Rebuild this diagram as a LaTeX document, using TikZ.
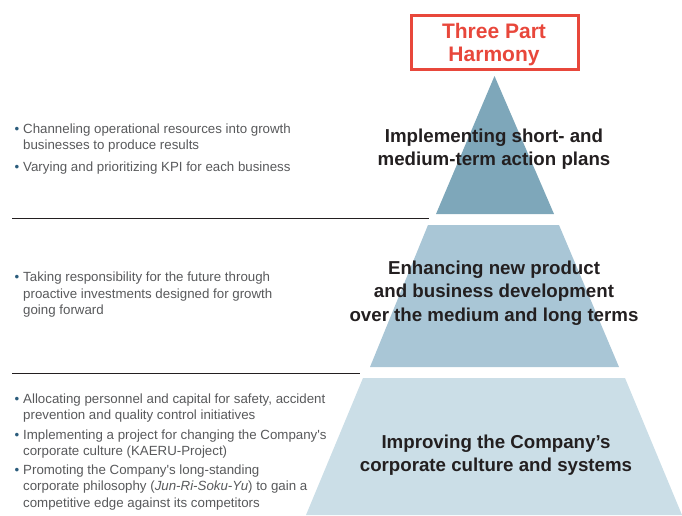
\documentclass[tikz,border=0pt]{standalone}
\usepackage{fontspec}
\setmainfont{Liberation Sans}
\definecolor{tierA}{HTML}{7EA7BA}
\definecolor{tierB}{HTML}{A9C6D6}
\definecolor{tierC}{HTML}{CBDEE7}
\definecolor{harmred}{HTML}{E8473B}
\definecolor{headc}{HTML}{231F20}
\definecolor{bodyc}{HTML}{58595B}
\definecolor{bulc}{HTML}{2B5C7C}
\newcommand{\bulmark}{\leavevmode\llap{\textcolor{bulc}{\textbullet}\hspace{4pt}}}
\newcommand{\apos}{\textquotesingle}
\begin{document}
\begin{tikzpicture}[x=1pt,y=-1pt,
  headtext/.style={inner sep=0pt, anchor=base, text=headc,
     font=\fontsize{18.7}{23.8}\selectfont\bfseries},
  bultext/.style={inner sep=0pt, anchor=base west, text=bodyc,
     font=\fontsize{13.3}{16.4}\selectfont},
  rule/.style={draw=headc, line width=0.9pt},
  titlebox/.style={draw=harmred, line width=2.6pt, minimum width=167.5pt, minimum height=54.5pt, inner sep=0pt}
]
\useasboundingbox (0,0) rectangle (682,515);
% pyramid tiers
\fill[tierA] (494.5,76) -- (554,214) -- (436,214) -- cycle;
\fill[tierB] (428,225) -- (559,225) -- (619,367) -- (370,367) -- cycle;
\fill[tierC] (363,378) -- (625,378) -- (682,515) -- (306,515) -- cycle;
% title box
\node[titlebox] (box) at (495,42.5) {};
\node[inner sep=0pt, anchor=base, text=harmred, font=\fontsize{21}{23.4}\selectfont\bfseries] (title) at (494,38.3)
  {\parbox[t]{200pt}{\centering Three Part\\Harmony}};
% headings
\node[headtext] (h1) at (494,142) {\parbox[t]{300pt}{\centering Implementing short- and\\medium-term action plans}};
\node[headtext] (h2) at (494,274) {\parbox[t]{330pt}{\centering Enhancing new product\\and business development\\over the medium and long terms}};
\node[headtext] (h3) at (496,448) {\parbox[t]{330pt}{\centering Improving the Company’s\\corporate culture and systems}};
% rules
\coordinate (r1a) at (12,218.5);
\coordinate (r1b) at (429,218.5);
\coordinate (r2a) at (12,373);
\coordinate (r2b) at (360,373);
\draw[rule] (r1a) -- (r1b);
\draw[rule] (r2a) -- (r2b);
% bullets
\node[bultext] (b1) at (23,133) {\parbox[t]{320pt}{\bulmark Channeling operational resources into growth\\businesses to produce results}};
\node[bultext] (b2) at (23,171.5) {\parbox[t]{320pt}{\bulmark Varying and prioritizing KPI for each business}};
\node[bultext] (b3) at (23,281.7) {\parbox[t]{320pt}{\bulmark Taking responsibility for the future through\\proactive investments designed for growth\\going forward}};
\node[bultext] (b4) at (23,403) {\parbox[t]{320pt}{\bulmark Allocating personnel and capital for safety, accident\\prevention and quality control initiatives}};
\node[bultext] (b5) at (23,439) {\parbox[t]{320pt}{\bulmark Implementing a project for changing the Company\apos s\\corporate culture (KAERU-Project)}};
\node[bultext] (b6) at (23,474.5) {\parbox[t]{320pt}{\bulmark Promoting the Company\apos s long-standing\\corporate philosophy (\textit{Jun-Ri-Soku-Yu}) to gain a\\competitive edge against its competitors}};
\end{tikzpicture}
\end{document}
